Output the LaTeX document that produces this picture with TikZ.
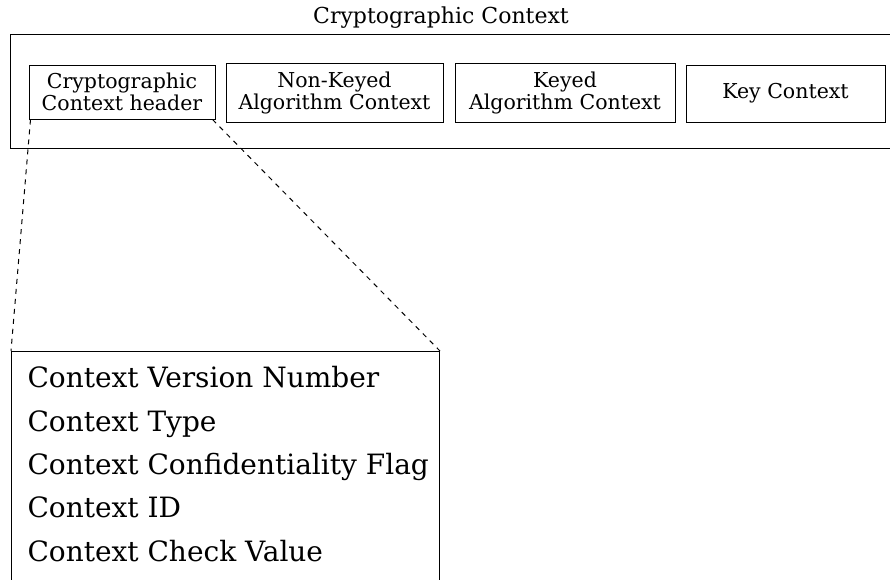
\documentclass[tikz,border=0pt]{standalone}
\usepackage{fontspec}
\setmainfont{DejaVu Serif}
\begin{document}
\begin{tikzpicture}[x=1pt,y=-1pt,
  line width=1pt,
  box/.style={draw, inner sep=0pt, align=center, font=\fontsize{20.5}{22}\selectfont},
  item/.style={anchor=base west, inner sep=0pt, font=\fontsize{28}{34}\selectfont},
  zoomline/.style={dash pattern=on 5pt off 5pt}]
\useasboundingbox (0,0) rectangle (890,579);
\clip (0,0) rectangle (890,579);
% outer context box (open on the right)
\coordinate (otr) at (895,34);
\coordinate (obr) at (895,148);
\draw (otr) -- (10,34) -- (10,148) -- (obr);
\node[inner sep=0pt, font=\fontsize{22}{26}\selectfont] (title) at (441,18) {Cryptographic Context};
% inner boxes
\node[box, minimum width=186pt, minimum height=54pt] (hdr) at (122,92) {Cryptographic\\Context header};
\node[box, minimum width=217pt, minimum height=59pt] (nk) at (334.5,92.5) {Non-Keyed\\Algorithm Context};
\node[box, minimum width=220pt, minimum height=59pt] (kd) at (565,92.5) {Keyed\\Algorithm Context};
\node[box, minimum width=199pt, minimum height=57pt] (kc) at (785.5,93.5) {Key Context};
% detail box (open at the bottom, clipped)
\node[draw, minimum width=428pt, minimum height=260pt, anchor=north west, inner sep=0pt] (det) at (11,351) {};
\node[item] (l1) at (27,387) {Context Version Number};
\node[item] (l2) at (27,431) {Context Type};
\node[item] (l3) at (27,474) {Context Confidentiality Flag};
\node[item] (l4) at (27,517) {Context ID};
\node[item] (l5) at (27,561) {Context Check Value};
% zoom lines
\draw[zoomline] ([xshift=2pt]hdr.south west) -- (det.north west);
\draw[zoomline] ([xshift=-3pt]hdr.south east) -- (det.north east);
\end{tikzpicture}
\end{document}
